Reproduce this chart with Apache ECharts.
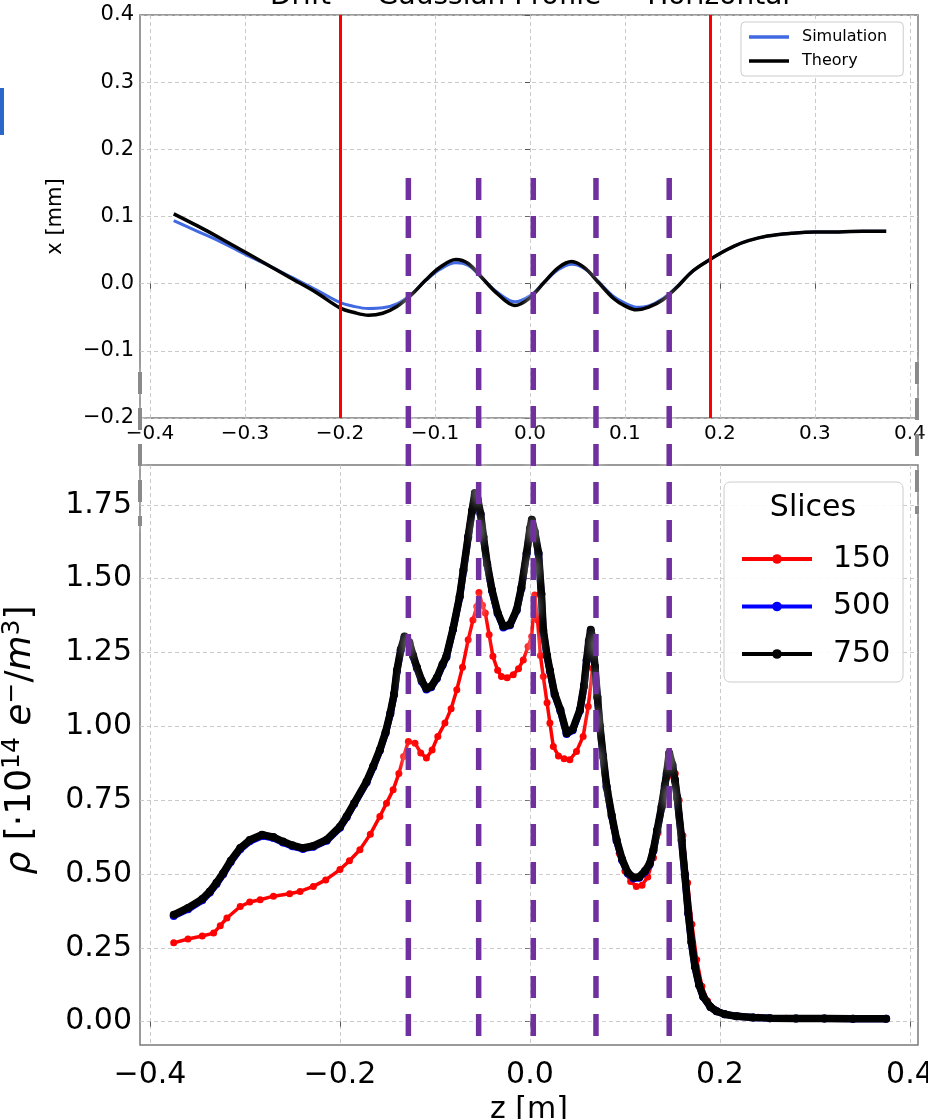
<!DOCTYPE html>
<html>
<head>
<meta charset="utf-8">
<script src="https://cdn.jsdelivr.net/npm/echarts@6/dist/echarts.min.js"></script>
<style>
html,body{margin:0;padding:0;background:#fff;}
#chart{width:928px;height:1119px;}
</style>
</head>
<body>
<div id="chart"></div>
<script>
// ---------------- DATA ----------------
// Top panel: transverse offset x [mm] vs z [m]
const zTop = [-0.375,-0.35,-0.325,-0.3,-0.275,-0.25,-0.225,-0.2,-0.185,-0.17,-0.155,-0.14,-0.125,-0.11,-0.095,-0.078,-0.065,-0.05,-0.035,-0.016,0.0,0.015,0.03,0.044,0.058,0.072,0.088,0.1,0.112,0.125,0.14,0.155,0.17,0.185,0.2,0.215,0.23,0.25,0.275,0.3,0.325,0.35,0.375];
const xTheory = [0.104,0.086,0.067,0.047,0.027,0.007,-0.013,-0.036,-0.043,-0.047,-0.044,-0.034,-0.017,0.005,0.024,0.036,0.030,0.008,-0.014,-0.0325,-0.021,0.002,0.024,0.033,0.023,0.002,-0.022,-0.033,-0.039,-0.035,-0.024,-0.005,0.017,0.032,0.045,0.056,0.064,0.071,0.075,0.077,0.077,0.078,0.078];
const xSimulation = [0.094,0.078,0.062,0.044,0.027,0.009,-0.009,-0.028,-0.034,-0.037,-0.036,-0.030,-0.016,0.004,0.021,0.031,0.027,0.008,-0.012,-0.027,-0.018,0.002,0.021,0.029,0.022,0.003,-0.019,-0.029,-0.035,-0.033,-0.022,-0.004,0.017,0.032,0.045,0.056,0.064,0.071,0.075,0.077,0.077,0.078,0.078];

// Bottom panel: density rho vs z for different slice counts
const z150 = [-0.375,-0.36,-0.345,-0.333,-0.326,-0.319,-0.305,-0.295,-0.284,-0.27,-0.253,-0.242,-0.228,-0.215,-0.2,-0.19,-0.179,-0.168,-0.158,-0.151,-0.144,-0.138,-0.133,-0.128,-0.121,-0.115,-0.109,-0.103,-0.097,-0.0895,-0.083,-0.077,-0.071,-0.065,-0.06,-0.056,-0.0537,-0.05,-0.047,-0.043,-0.039,-0.034,-0.03,-0.024,-0.0176,-0.012,-0.007,-0.002,0.0018,0.005,0.008,0.011,0.014,0.018,0.021,0.0246,0.03,0.036,0.042,0.049,0.056,0.0614,0.066,0.069,0.0716,0.077,0.082,0.088,0.094,0.1,0.106,0.112,0.118,0.124,0.13,0.135,0.14,0.145,0.149,0.153,0.157,0.161,0.166,0.1705,0.1755,0.181,0.187,0.195,0.205,0.22,0.24,0.27,0.3,0.34,0.375];
const rho150 = [0.267,0.28,0.29,0.30,0.325,0.351,0.39,0.405,0.413,0.425,0.433,0.441,0.458,0.48,0.515,0.545,0.582,0.635,0.695,0.74,0.785,0.84,0.898,0.949,0.943,0.91,0.893,0.92,0.966,1.011,1.06,1.124,1.2,1.293,1.36,1.406,1.453,1.41,1.384,1.31,1.237,1.19,1.169,1.165,1.175,1.195,1.225,1.27,1.304,1.445,1.36,1.24,1.169,1.08,1.011,0.932,0.90,0.89,0.887,0.915,0.966,1.067,1.197,1.15,1.09,0.898,0.78,0.66,0.57,0.51,0.475,0.458,0.462,0.49,0.555,0.64,0.74,0.83,0.87,0.84,0.75,0.63,0.47,0.33,0.21,0.12,0.07,0.04,0.027,0.019,0.015,0.012,0.011,0.01,0.01];

const z750 = [-0.375,-0.36,-0.345,-0.337,-0.33,-0.323,-0.315,-0.305,-0.295,-0.282,-0.27,-0.26,-0.25,-0.239,-0.228,-0.214,-0.2,-0.193,-0.185,-0.172,-0.165,-0.158,-0.152,-0.147,-0.143,-0.14,-0.136,-0.132,-0.127,-0.123,-0.119,-0.114,-0.109,-0.104,-0.098,-0.092,-0.088,-0.081,-0.074,-0.07,-0.065,-0.061,-0.058,-0.055,-0.052,-0.049,-0.045,-0.04,-0.034,-0.028,-0.021,-0.014,-0.009,-0.0035,0.0,0.002,0.005,0.009,0.012,0.014,0.018,0.021,0.026,0.032,0.0386,0.045,0.0526,0.057,0.0597,0.062,0.064,0.066,0.0684,0.071,0.0737,0.077,0.0807,0.086,0.0912,0.097,0.103,0.109,0.115,0.121,0.126,0.13,0.134,0.1386,0.142,0.144,0.1466,0.15,0.1526,0.155,0.1597,0.163,0.1667,0.17,0.1737,0.178,0.1824,0.19,0.1965,0.205,0.2175,0.235,0.2526,0.28,0.31,0.34,0.375];
const rho750 = [0.362,0.385,0.415,0.441,0.47,0.503,0.545,0.588,0.615,0.633,0.625,0.610,0.597,0.588,0.595,0.616,0.66,0.695,0.74,0.813,0.865,0.921,0.98,1.045,1.11,1.19,1.26,1.304,1.285,1.24,1.2,1.155,1.128,1.135,1.165,1.21,1.237,1.33,1.44,1.53,1.643,1.73,1.79,1.77,1.72,1.643,1.55,1.462,1.385,1.338,1.345,1.395,1.47,1.587,1.67,1.70,1.66,1.587,1.45,1.327,1.24,1.19,1.11,1.056,0.977,0.99,1.056,1.14,1.225,1.29,1.327,1.30,1.203,1.1,1.0,0.9,0.797,0.70,0.616,0.55,0.505,0.488,0.49,0.51,0.535,0.582,0.65,0.729,0.80,0.842,0.91,0.87,0.819,0.76,0.616,0.50,0.368,0.27,0.187,0.125,0.085,0.05,0.035,0.025,0.018,0.014,0.012,0.011,0.0105,0.01,0.01];
const rho500 = [0.358,0.381,0.411,0.437,0.466,0.499,0.541,0.584,0.611,0.629,0.622,0.607,0.594,0.585,0.592,0.613,0.657,0.692,0.737,0.81,0.862,0.918,0.977,1.042,1.107,1.187,1.257,1.3,1.282,1.237,1.197,1.152,1.125,1.132,1.162,1.207,1.234,1.327,1.437,1.527,1.64,1.727,1.785,1.766,1.717,1.64,1.547,1.459,1.382,1.335,1.342,1.392,1.467,1.584,1.666,1.695,1.656,1.584,1.447,1.324,1.237,1.187,1.107,1.053,0.974,0.987,1.053,1.137,1.222,1.286,1.323,1.297,1.2,1.097,0.997,0.897,0.794,0.697,0.613,0.547,0.502,0.485,0.487,0.507,0.532,0.579,0.647,0.726,0.797,0.839,0.906,0.867,0.816,0.757,0.613,0.497,0.365,0.268,0.185,0.124,0.084,0.05,0.035,0.025,0.018,0.014,0.012,0.011,0.0105,0.01,0.01];

// Vertical marker positions [m]
const redLinesZ = [-0.195, 0.193];
const purpleLinesZ = [-0.128, -0.054, 0.0035, 0.0695, 0.1466];

// Tick values
const topXTicks = [-0.4,-0.3,-0.2,-0.1,0.0,0.1,0.2,0.3,0.4];
const bottomXTicks = [-0.4,-0.2,0.0,0.2,0.4];
const bottomYTicks = [0,0.25,0.5,0.75,1.0,1.25,1.5,1.75];

// ---------------- CHART ----------------
const FONT = 'DejaVu Sans';
const minus = s => s.replace('-', '\u2212');
const pairs = (zs, vs) => zs.map((z, i) => [z, vs[i]]);
// purple markers span from upper panel down into lower panel (values on lower y scale)
const PURPLE_TOP = 2.857, PURPLE_BOTTOM = -0.062;

const gridLine = {show: true, lineStyle: {color: '#c4c4c4', width: 0.9, type: [4, 3]}};
const tick = {show: true, length: 5, lineStyle: {color: '#555', width: 1}};

const chart = echarts.init(document.getElementById('chart'), null, {renderer: 'canvas'});

const purpleSeries = purpleLinesZ.map((z, i) => ({
  name: 'marker' + i,
  type: 'line',
  xAxisIndex: 1, yAxisIndex: 1,
  data: [[z, PURPLE_TOP], [z, PURPLE_BOTTOM]],
  clip: false,
  symbol: 'none',
  silent: true,
  z: 20,
  lineStyle: {color: '#7030a0', width: 5.5, type: [22, 16], cap: 'butt',
    shadowBlur: 12, shadowColor: 'rgba(255,255,255,1)'},
  legendHoverLink: false
}));

const option = {
  backgroundColor: '#fff',
  animation: false,
  textStyle: {fontFamily: FONT},
  grid: [
    {left: 140, right: 10, top: 15, height: 403, show: true, borderColor: '#7a7a7a', borderWidth: 1.5,
      backgroundColor: 'transparent', containLabel: false, outerBoundsMode: 'none'},
    {left: 140, right: 10, top: 465, height: 580, show: true, borderColor: '#7a7a7a', borderWidth: 1.5,
      backgroundColor: 'transparent', containLabel: false, outerBoundsMode: 'none'}
  ],
  xAxis: [
    {type: 'value', gridIndex: 0, min: -0.4105, max: 0.4085,
      axisLine: {show: false}, axisTick: Object.assign({customValues: topXTicks}, tick),
      splitLine: gridLine,
      axisLabel: {customValues: topXTicks, color: '#000', fontSize: 20, margin: 6, fontFamily: FONT,
        hideOverlap: false, formatter: v => minus(v.toFixed(1))}},
    {type: 'value', gridIndex: 1, min: -0.4105, max: 0.4085,
      name: 'z [m]', nameLocation: 'middle', nameGap: 50,
      nameTextStyle: {fontSize: 30, color: '#000', fontFamily: FONT},
      axisLine: {show: false}, axisTick: Object.assign({customValues: bottomXTicks}, tick),
      splitLine: gridLine,
      axisLabel: {customValues: bottomXTicks, color: '#000', fontSize: 30, margin: 15, fontFamily: FONT,
        hideOverlap: false, formatter: v => minus(v.toFixed(1))}}
  ],
  yAxis: [
    {type: 'value', gridIndex: 0, min: -0.2, max: 0.4, interval: 0.1,
      name: 'x [mm]', nameLocation: 'middle', nameGap: 74, nameRotate: 90,
      nameTextStyle: {fontSize: 21, color: '#000', fontFamily: FONT},
      axisLine: {show: false}, axisTick: tick, splitLine: gridLine,
      axisLabel: {color: '#000', fontSize: 21, margin: 6, fontFamily: FONT,
        formatter: v => minus(v.toFixed(1))}},
    {type: 'value', gridIndex: 1, min: -0.079, max: 1.885,
      name: '{it|\u03C1} [\u00B710{sup|14} {it|e}{sup|\u2212}/{it|m}{sup|3}]', nameLocation: 'middle', nameGap: 98, nameRotate: 90,
      nameTextStyle: {fontSize: 36, color: '#000', fontFamily: FONT, padding: [0, 0, 0, 30],
        rich: {
          sup: {fontSize: 25, color: '#000', fontFamily: FONT, padding: [0, 0, 17, 0]},
          it: {fontSize: 36, color: '#000', fontFamily: FONT, fontStyle: 'italic'}
        }},
      axisLine: {show: false}, axisTick: Object.assign({customValues: bottomYTicks}, tick),
      splitLine: gridLine,
      axisLabel: {customValues: bottomYTicks, color: '#000', fontSize: 30, margin: 8, fontFamily: FONT,
        formatter: v => minus(v.toFixed(2))}}
  ],
  legend: [
    {data: ['Simulation', 'Theory'], orient: 'vertical', left: 741, top: 22,
      padding: [7, 16, 7, 8], itemGap: 8, itemWidth: 40, itemHeight: 3.5, icon: 'rect',
      backgroundColor: 'rgba(255,255,255,0.9)', borderColor: '#cccccc', borderWidth: 1, borderRadius: 4,
      textStyle: {fontSize: 16, color: '#000', fontFamily: FONT, lineHeight: 16, padding: [0, 0, 0, 8]},
      selectedMode: false, z: 30},
    {data: ['150', '500', '750'], orient: 'vertical', left: 735, top: 539,
      itemGap: 17.5, itemWidth: 70, itemHeight: 12,
      lineStyle: {width: 4},
      textStyle: {fontSize: 30, color: '#000', fontFamily: FONT, lineHeight: 30, padding: [0, 0, 0, 16]},
      selectedMode: false, z: 30}
  ],
  graphic: [
    {type: 'text', z: 50, style: {text: 'Drift \u2014 Gaussian Profile \u2014 Horizontal', x: 530, y: 11,
      textAlign: 'center', textVerticalAlign: 'bottom', font: '28px "DejaVu Sans"', fill: '#000'}},
    {type: 'rect', z: 25, shape: {x: 724, y: 482, width: 179, height: 200, r: 6},
      style: {fill: 'rgba(255,255,255,0.9)', stroke: '#cccccc', lineWidth: 1}},
    {type: 'text', z: 30, style: {text: 'Slices', x: 813, y: 508, textAlign: 'center', textVerticalAlign: 'middle',
      font: '30px "DejaVu Sans"', fill: '#000'}},
    {type: 'rect', z: 50, shape: {x: 0, y: 88, width: 4, height: 47}, style: {fill: '#2b67c9'}},
    {type: 'line', z: 50, shape: {x1: 140, y1: 372, x2: 140, y2: 526},
      style: {stroke: '#8a8a8a', lineWidth: 4, lineDash: [22, 14], shadowBlur: 8, shadowColor: '#fff'}},
    {type: 'line', z: 50, shape: {x1: 917, y1: 362, x2: 917, y2: 514},
      style: {stroke: '#8a8a8a', lineWidth: 4, lineDash: [22, 14], shadowBlur: 8, shadowColor: '#fff'}}
  ],
  series: [
    {name: 'Simulation', type: 'line', xAxisIndex: 0, yAxisIndex: 0, data: pairs(zTop, xSimulation),
      smooth: 0.35, symbol: 'none', lineStyle: {color: '#4169e1', width: 3}, itemStyle: {color: '#4169e1'}, z: 3},
    {name: 'Theory', type: 'line', xAxisIndex: 0, yAxisIndex: 0, data: pairs(zTop, xTheory),
      smooth: 0.35, symbol: 'none', lineStyle: {color: '#000', width: 3.5}, itemStyle: {color: '#000'}, z: 4,
      markLine: {silent: true, symbol: 'none', label: {show: false},
        lineStyle: {color: '#ff0000', width: 3, type: 'solid'},
        data: redLinesZ.map(z => ({xAxis: z}))}},
    {name: '150', type: 'line', xAxisIndex: 1, yAxisIndex: 1, data: pairs(z150, rho150),
      symbol: 'circle', symbolSize: 7, showSymbol: true,
      lineStyle: {color: '#ff0000', width: 3.5, join: 'round'}, itemStyle: {color: '#ff0000'}, z: 3},
    {name: '500', type: 'line', xAxisIndex: 1, yAxisIndex: 1, data: pairs(z750, rho500),
      symbol: 'circle', symbolSize: 8, showSymbol: true,
      lineStyle: {color: '#0000ff', width: 7, join: 'round'}, itemStyle: {color: '#0000ff'}, z: 4},
    {name: '750', type: 'line', xAxisIndex: 1, yAxisIndex: 1, data: pairs(z750, rho750),
      symbol: 'circle', symbolSize: 8, showSymbol: true,
      lineStyle: {color: '#000000', width: 7.5, join: 'round'}, itemStyle: {color: '#000000'}, z: 5}
  ].concat(purpleSeries)
};
chart.setOption(option);
</script>
</body>
</html>
